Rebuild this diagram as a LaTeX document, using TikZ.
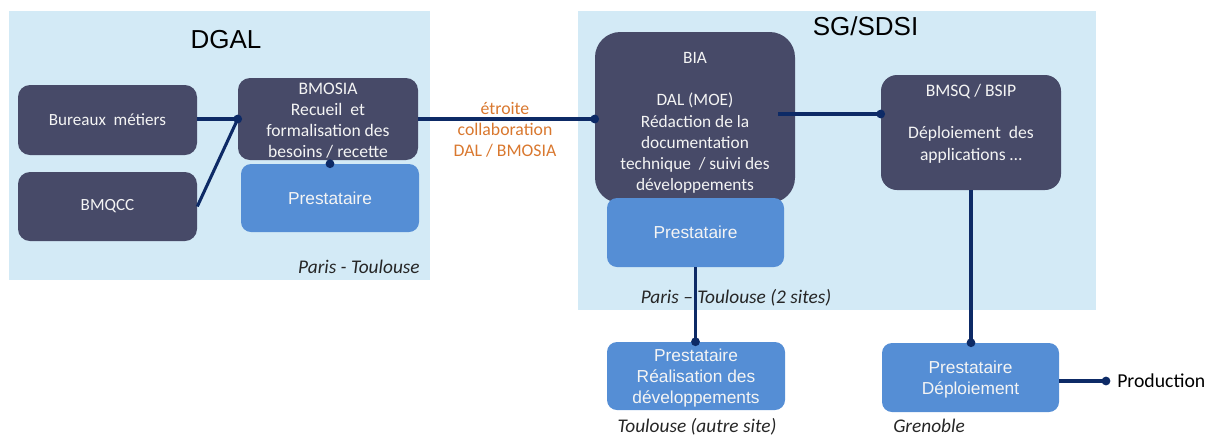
\documentclass[tikz,border=0pt]{standalone}
\usepackage{fontspec}
\setmainfont{Carlito}
\newfontfamily\arialf{Liberation Sans}
\definecolor{panel}{HTML}{D3EAF6}
\definecolor{darkbox}{HTML}{474A68}
\definecolor{midblue}{HTML}{558ED5}
\definecolor{linecol}{HTML}{0D2A66}
\definecolor{orangetxt}{HTML}{D9782F}
\definecolor{boxtxt}{HTML}{F4F4F4}
\tikzset{
  panelbox/.style={fill=panel, draw=none},
  darkb/.style={fill=darkbox, draw=none, text=boxtxt, align=center, inner sep=0pt,
    font=\fontsize{13}{16}\selectfont},
  boxtext/.style={text=boxtxt, align=center, inner sep=0pt, font=\fontsize{13}{15.9}\selectfont},
  prestb/.style={fill=midblue, draw=none, text=boxtxt, align=center, inner sep=0pt,
    rounded corners=7.5pt, font=\arialf\fontsize{13}{15.75}\selectfont},
  conn/.style={draw=linecol, line width=2.3pt},
  dotc/.style={fill=linecol},
  titletxt/.style={font=\arialf\fontsize{19.5}{22}\selectfont, text=black, inner sep=0pt},
  sitetxt/.style={font=\itshape\fontsize{14.5}{17}\selectfont, text=black!85, inner sep=0pt},
}
\begin{document}
\begin{tikzpicture}[x=0.75pt, y=-0.75pt]
\useasboundingbox (0,0) rectangle (1207,437);
% panels
\fill[panelbox] (9,11) rectangle (430,280);
\fill[panelbox] (578,11) rectangle (1096,310);
\node[titletxt] (dgal) at (226,40) {DGAL};
\node[titletxt] (sgsdsi) at (865.5,26) {SG/SDSI};
% DGAL boxes
\node[darkb, minimum width=179*0.75pt, minimum height=70*0.75pt, rounded corners=9pt,
  font=\fontsize{12.8}{16}\selectfont] (bur) at (107.5,120) {Bureaux\ \ métiers};
\node[darkb, minimum width=179*0.75pt, minimum height=69*0.75pt, rounded corners=9pt,
  font=\fontsize{12.8}{16}\selectfont] (bmqcc) at (107.5,206.5) {BMQCC};
\node[darkb, minimum width=180*0.75pt, minimum height=82*0.75pt, rounded corners=9pt] (bmosia) at (328,119) {};
\node[boxtext, font=\fontsize{13.2}{15.75}\selectfont] (bmosiatext) at (328,121)
  {BMOSIA\\Recueil\ \ et\\formalisation des\\besoins / recette};
\node[prestb, minimum width=178*0.75pt, minimum height=68*0.75pt] (dgp) at (330,198) {Prestataire};
\node[sitetxt, anchor=east] (pt1) at (420,267) {Paris - Toulouse};
% SG boxes
\node[darkb, minimum width=200*0.75pt, minimum height=171*0.75pt, rounded corners=19pt] (bia) at (695,117.5) {};
\node[boxtext] (biatext) at (695,123)
  {BIA\\\mbox{}\\DAL (MOE)\\Rédaction de la\\documentation\\technique\ \ / suivi des\\développements};
\node[prestb, minimum width=177*0.75pt, minimum height=69*0.75pt] (sgp) at (695.5,232.5) {Prestataire};
\node[darkb, minimum width=180*0.75pt, minimum height=115*0.75pt, rounded corners=12pt] (bmsq) at (971,132.5) {};
\node[boxtext, font=\fontsize{13.2}{16}\selectfont] (bmsqtext) at (971,123.5)
  {BMSQ / BSIP\\\mbox{}\\Déploiement\ \ des\\applications …};
\node[sitetxt] (pt2) at (736,298) {Paris – Toulouse (2 sites)};
% lower boxes
\node[prestb, minimum width=178*0.75pt, minimum height=68*0.75pt] (rp) at (696,376) {};
\node[prestb, fill=none, rounded corners=0pt] (rptext) at (696,378)
  {Prestataire\\Réalisation des\\développements};
\node[sitetxt] (tl) at (697,426.5) {Toulouse (autre site)};
\node[prestb, minimum width=177*0.75pt, minimum height=69*0.75pt] (dp) at (970.5,377.5) {};
\node[prestb, fill=none, rounded corners=0pt] (dptext) at (970.5,380)
  {Prestataire\\Déploiement};
\node[sitetxt, anchor=west] (gr) at (893,426) {Grenoble};
\coordinate (prodpt) at (1106,381);
\node[font=\fontsize{14.8}{17}\selectfont, anchor=west, inner sep=0pt] (prod) at (1117,381) {Production};
% collaboration label
\node[align=center, text=orangetxt, font=\fontsize{13.3}{15.75}\selectfont, inner sep=0pt] (collab) at (505,129.5)
  {étroite\\collaboration\\DAL / BMOSIA};
% connectors
\coordinate (j1) at (bmosia.west);
\draw[conn] (bur.east |- j1) -- (j1);
\draw[conn] (bmqcc.east) -- (j1);
\fill[dotc] (j1) circle (3.3pt);
\fill[dotc] (dgp.north) circle (3.3pt);
\coordinate (biain) at (bmosia.east -| bia.west);
\draw[conn] (bmosia.east) -- (biain);
\fill[dotc] (biain) circle (3.3pt);
\coordinate (biaout) at (778,114);
\coordinate (bmsqin) at (biaout -| bmsq.west);
\draw[conn] (biaout) -- (bmsqin);
\fill[dotc] (bmsqin) circle (3.3pt);
\coordinate (dpin) at (bmsq.south |- dp.north);
\draw[conn] (bmsq.south) -- (dpin);
\fill[dotc] (dpin) circle (3.3pt);
\coordinate (rpin) at (sgp.south |- rp.north);
\draw[conn] (sgp.south) -- (rpin);
\fill[dotc] (rpin) circle (3.3pt);
\draw[conn] (dp.east |- prodpt) -- (prodpt);
\fill[dotc] (prodpt) circle (3.3pt);
\end{tikzpicture}
\end{document}
